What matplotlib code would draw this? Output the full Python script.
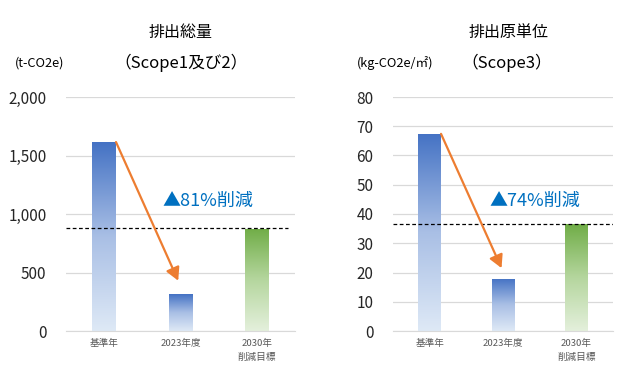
import matplotlib
matplotlib.use("Agg")
import matplotlib.pyplot as plt
import numpy as np
from matplotlib.colors import LinearSegmentedColormap

plt.rcParams["font.family"] = ["Noto Sans CJK JP", "DejaVu Sans"]

categories = ["基準年", "2023年度", "2030年\n削減目標"]

total_values = [1615, 316, 872]
total_target = 880
total_ticks = [0, 500, 1000, 1500, 2000]
total_label = "▲81%削減"

intensity_values = [67.4, 17.8, 36.5]
intensity_target = 36.5
intensity_ticks = [0, 10, 20, 30, 40, 50, 60, 70, 80]
intensity_label = "▲74%削減"

BLUE = LinearSegmentedColormap.from_list("b", ["#DEE9F6", "#A9BFE5", "#4472C4"])
GREEN = LinearSegmentedColormap.from_list("g", ["#E4F0DC", "#B5D69E", "#70AD47"])
GRID = "#D9D9D9"
ORANGE = "#ED7D31"


def gradient_bars(ax, values, width=0.31):
    bars = ax.bar(range(len(values)), values, width=width, color="none", zorder=2)
    grad = np.linspace(0, 1, 256).reshape(-1, 1)
    for i, bar in enumerate(bars):
        cmap = GREEN if i == len(values) - 1 else BLUE
        x0, y0 = bar.get_x(), bar.get_y()
        im = ax.imshow(grad, cmap=cmap, origin="lower", aspect="auto", zorder=2,
                       extent=[x0, x0 + bar.get_width(), y0, y0 + bar.get_height()])
        im.set_clip_path(bar)
    return bars


def setup_axis(ax, ticks, fmt):
    ax.set_xlim(-0.5, 2.5)
    ax.set_ylim(ticks[0], ticks[-1])
    ax.set_yticks(ticks)
    ax.set_yticklabels([fmt(t) for t in ticks], fontsize=11, color="#262626")
    ax.set_xticks(range(len(categories)))
    ax.set_xticklabels(categories, fontsize=6.9, color="#595959", linespacing=1.7)
    ax.tick_params(axis="both", length=0)
    ax.tick_params(axis="y", pad=14)
    ax.tick_params(axis="x", pad=6)
    ax.grid(axis="y", color=GRID, linewidth=0.9, zorder=0)
    ax.set_axisbelow(True)
    for side in ("top", "right", "left"):
        ax.spines[side].set_visible(False)
    ax.spines["bottom"].set_color(GRID)


fig = plt.figure(figsize=(6.2, 3.71), dpi=100)
ax1 = fig.add_axes([66 / 620, 40 / 371, 229 / 620, 234 / 371])
ax2 = fig.add_axes([393 / 620, 40 / 371, 220 / 620, 234 / 371])

arrow = dict(arrowstyle="-|>,head_length=0.55,head_width=0.3", color=ORANGE, lw=1.6,
             mutation_scale=14, shrinkA=0, shrinkB=0)

# left: total emissions
setup_axis(ax1, total_ticks, lambda t: f"{t:,}")
gradient_bars(ax1, total_values)
ax1.axhline(total_target, xmin=0, xmax=0.97, color="black", linestyle=(0, (3, 2)),
            linewidth=0.9, zorder=3)
ax1.annotate("", xy=(0.97, 430), xytext=(0.155, total_values[0]),
             arrowprops=arrow, zorder=4)
ax1.text(0.76, 1111, total_label, color="#0070C0", fontsize=13, va="center", ha="left")

# right: intensity
setup_axis(ax2, intensity_ticks, lambda t: f"{t}")
gradient_bars(ax2, intensity_values)
ax2.axhline(intensity_target, color="black", linestyle=(0, (3, 2)), linewidth=0.9, zorder=3)
ax2.annotate("", xy=(0.98, 21.5), xytext=(0.155, intensity_values[0]),
             arrowprops=arrow, zorder=4)
ax2.text(0.81, 44.4, intensity_label, color="#0070C0", fontsize=13, va="center", ha="left")

# titles and units
fig.text(181 / 620, 1 - 32 / 371, "排出総量", fontsize=11.5, ha="center", va="center")
fig.text(181 / 620, 1 - 63 / 371, "（Scope1及び2）", fontsize=12, ha="center", va="center")
fig.text(40 / 620, 1 - 63 / 371, "(t-CO2e)", fontsize=9.2, ha="center", va="center")
fig.text(509 / 620, 1 - 32 / 371, "排出原単位", fontsize=11.5, ha="center", va="center")
fig.text(507 / 620, 1 - 63 / 371, "（Scope3）", fontsize=12, ha="center", va="center")
fig.text(395 / 620, 1 - 63 / 371, "(kg-CO2e/㎡)", fontsize=9.2, ha="center", va="center")

fig.savefig("out.png", dpi=100)
